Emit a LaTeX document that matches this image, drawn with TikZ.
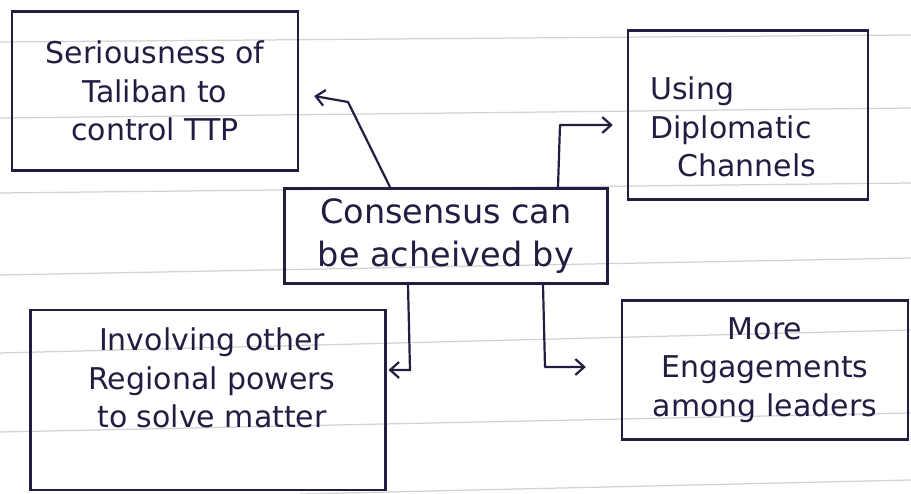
\documentclass[tikz,border=0pt]{standalone}
\usepackage{fontspec}
\setmainfont{DejaVu Sans}
\usetikzlibrary{arrows.meta,calc}
\definecolor{ink}{RGB}{34,30,66}
\definecolor{ruled}{RGB}{210,210,214}
\tikzset{
  box/.style={draw=ink, line width=1.5pt, text=ink, inner sep=0pt,
              font=\fontsize{17}{22}\selectfont},
  txt/.style={text=ink, inner sep=0pt, font=\fontsize{17}{22}\selectfont},
  conn/.style={draw=ink, line width=1.25pt, line join=round,
               -{Straight Barb[length=5pt, width=9pt, line width=1.25pt]}},
  ruleline/.style={draw=ruled, line width=0.7pt}
}
\begin{document}
\begin{tikzpicture}[x=0.567pt, y=-0.567pt]
\useasboundingbox[fill=white] (0,0) rectangle (911,494);
% ruled paper
\draw[ruleline] (0,42) -- (911,35);
\draw[ruleline] (0,118) -- (911,108);
\draw[ruleline] (0,193) -- (911,183);
\draw[ruleline] (0,275) -- (911,258);
\draw[ruleline] (0,353) -- (911,330);
\draw[ruleline] (0,432) -- (911,413);
\draw[ruleline] (300,494) -- (911,480);
% boxes
\node[box, minimum width=162pt, minimum height=90pt, align=center] (A) at (155,91)
  {Seriousness of\\ Taliban to\\ control TTP};
\node[box, minimum width=183pt, minimum height=54pt, align=center,
      font=\fontsize{19}{24}\selectfont] (C) at (446,236)
  {Consensus can\\ be acheived by};
\node[box, minimum width=136pt, minimum height=96pt] (B) at (748,115) {};
\node[txt, align=left, anchor=west] (Bt) at (650,127)
  {Using\\ Diplomatic\\ \hspace{0.9em}Channels};
\node[box, minimum width=201pt, minimum height=102pt] (L) at (208,400) {};
\node[txt, align=center] (Lt) at (212,378)
  {Involving other\\ Regional powers\\ to solve matter};
\node[box, minimum width=162pt, minimum height=79pt, align=center] (R) at (765,370)
  {More\\ Engagements\\ among leaders};
% connectors
\coordinate (a1) at (348,102);
\coordinate (b1) at (560,125);
\coordinate (l1) at (410,370);
\coordinate (r1) at (545,367);
\draw[conn] (C.north -| 390,0) -- (a1) -- ($(A.east)+(15,5)$);
\draw[conn] (C.north -| 558,0) -- (b1) -- ($(B.west |- b1)+(-14,0)$);
\draw[conn] (C.south -| 408,0) -- (l1) -- ($(L.east |- l1)+(2,0)$);
\draw[conn] (C.south -| 543,0) -- (r1) -- ($(R.west |- r1)+(-35,0)$);
\end{tikzpicture}
\end{document}
